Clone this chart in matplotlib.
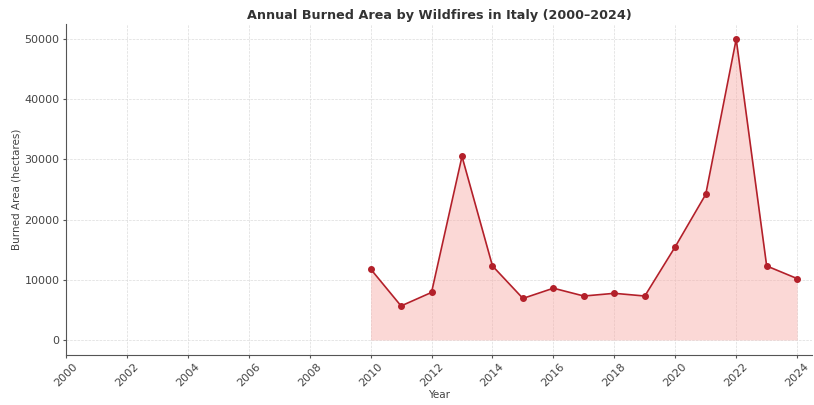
import matplotlib.pyplot as plt
import numpy as np

years = [2010, 2011, 2012, 2013, 2014, 2015, 2016, 2017, 2018, 2019,
         2020, 2021, 2022, 2023, 2024]
burned = [11800, 5650, 7900, 30500, 12300, 6900, 8600, 7300, 7750, 7300,
          15500, 24200, 50000, 12300, 10200]
xticks = list(range(2000, 2025, 2))

fig = plt.figure(figsize=(8.14, 4.05), dpi=100)
ax = fig.add_axes([0.081, 0.1235, 0.917, 0.817])

ax.fill_between(years, burned, color='#f8a9a4', alpha=0.45, linewidth=0)
ax.plot(years, burned, color='#b3202a', marker='o', markersize=4, linewidth=1.2)

ax.set_xlim(2000, 2024.5)
ax.set_xticks(xticks)
ax.set_xticklabels([str(x) for x in xticks], rotation=45, fontsize=8, color='#444444')
ax.tick_params(axis='y', labelsize=8, labelcolor='#444444')
ax.tick_params(length=2.5, pad=2, color='#555555')
ax.set_title('Annual Burned Area by Wildfires in Italy (2000–2024)',
             fontsize=9.2, fontweight='bold', color='#333333', pad=4)
ax.set_xlabel('Year', fontsize=7.5, color='#444444', labelpad=1)
ax.set_ylabel('Burned Area (hectares)', fontsize=7.5, color='#444444', labelpad=2)
ax.grid(True, linestyle='--', linewidth=0.5, color='#dcdcdc')
ax.set_axisbelow(True)
ax.spines['top'].set_visible(False)
ax.spines['right'].set_visible(False)
for s in ['left', 'bottom']:
    ax.spines[s].set_color('#555555')

plt.savefig('out.png')
